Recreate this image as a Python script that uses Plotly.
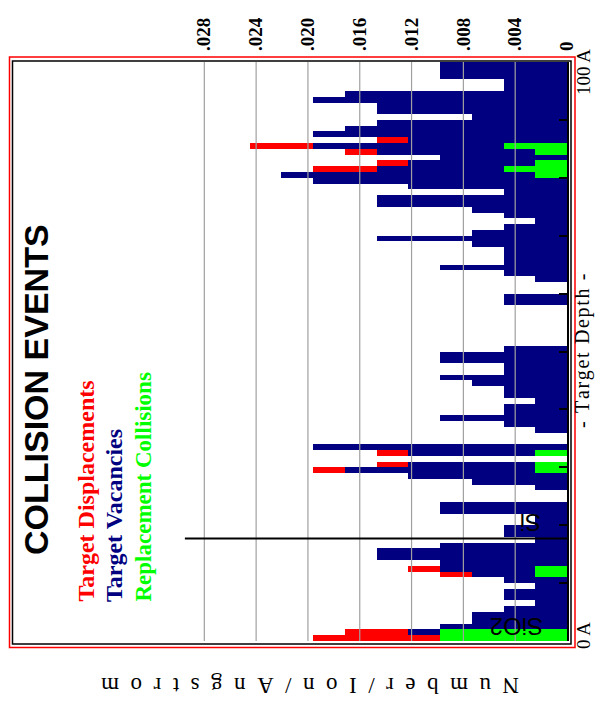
import plotly.graph_objects as go

# ---- data -------------------------------------------------------------
# depth bins (Angstrom), 1 A wide, 0..100 A
DEPTH_BINS = [i + 0.5 for i in range(100)]

# Target vacancies per ion per Angstrom
VACANCIES = [
    .0098, .01225, .0098, .00735, .00735, .0049, .00245, .0049, .0049, .00245,
    .0049, .00735, .0098, .0098, .0147, .0147, .0098, .00245, .0049, .0049,
    .00245, .00245, .0098, .0098, 0, 0, .00245, .00735, .01225, .01715,
    .01225, 0, .01225, .0196, 0, 0, .00245, .0049, .0098, .0049,
    .0049, .00245, .0049, .0049, .00735, .0098, .0049, .0049, .0098, .0098,
    .0049, 0, 0, 0, 0, 0, 0, 0, .0049, .0049,
    0, 0, .00245, .0049, .0098, .0049, .0049, .0049, .00735, .0147,
    .00735, .0049, .00245, .0049, .00735, .0147, .0147, .0049, .01225, .0196,
    .02205, .0147, .01225, .0098, .0147, .0196, .01225, .0196, .01715, .0147,
    .00735, .0147, .0147, .0196, .01715, .0049, .0049, .0098, .0098, .0098,
]

# Target displacements per ion per Angstrom
DISPLACEMENTS = [
    .0196, .01715, .0098, .00735, .00735, .0049, .00245, .0049, .0049, .00245,
    .0049, .0098, .01225, .0098, .0147, .0147, .0098, .00245, .0049, .0049,
    .00245, .00245, .0098, .0098, 0, 0, .00245, .00735, .01225, .0196,
    .0147, 0, .0147, .0196, 0, 0, .00245, .0049, .0098, .0049,
    .0049, .00245, .0049, .0049, .00735, .0098, .0049, .0049, .0098, .0098,
    .0049, 0, 0, 0, 0, 0, 0, 0, .0049, .0049,
    0, 0, .00245, .0049, .0098, .0049, .0049, .0049, .00735, .0147,
    .00735, .0049, .00245, .0049, .00735, .0147, .0147, .0049, .01225, .0196,
    .02205, .0196, .0147, .0098, .01715, .0245, .0147, .0196, .01715, .0147,
    .00735, .0147, .0147, .0196, .01715, .0049, .0049, .0098, .0098, .0098,
]

# Replacement collisions per ion per Angstrom
REPLACEMENTS = [
    .0098, .0098, 0, 0, 0, 0, 0, 0, 0, 0,
    0, .00245, .00245, 0, 0, 0, 0, 0, 0, 0,
    0, 0, 0, 0, 0, 0, 0, 0, 0, .00245,
    .00245, 0, .00245, 0, 0, 0, 0, 0, 0, 0,
    0, 0, 0, 0, 0, 0, 0, 0, 0, 0,
    0, 0, 0, 0, 0, 0, 0, 0, 0, 0,
    0, 0, 0, 0, 0, 0, 0, 0, 0, 0,
    0, 0, 0, 0, 0, 0, 0, 0, 0, 0,
    .00245, .0049, .00245, 0, .00245, .0049, 0, 0, 0, 0,
    0, 0, 0, 0, 0, 0, 0, 0, 0, 0,
]

VALUE_TICKS = [0, .004, .008, .012, .016, .020, .024, .028]
VALUE_TICK_TEXT = ["0", ".004", ".008", ".012", ".016", ".020", ".024", ".028"]
DEPTH_TICKS = [0, 10, 20, 30, 40, 50, 60, 70, 80, 90, 100]
LAYER_BOUNDARY = 17.7          # SiO2 / Si interface depth (A)
VALUE_MAX = 0.04277            # left edge of the plotting box

NAVY, RED, GREEN = "#000080", "#ff0000", "#00ff00"
SERIF = "Liberation Serif, Times New Roman, serif"
SANS = "Liberation Sans, Arial, sans-serif"

# ---- page geometry (pixels) -------------------------------------------
W, H = 595, 710
PL, PR, PT, PB = 13, 567, 62, 641      # plotting box


def px(x):
    return (x - PL) / (PR - PL)


def py(y):
    return (PB - y) / (PB - PT)


fig = go.Figure()
for vals, col in ((DISPLACEMENTS, RED), (VACANCIES, NAVY), (REPLACEMENTS, GREEN)):
    fig.add_trace(go.Bar(
        x=vals, y=DEPTH_BINS, orientation="h", width=1,
        marker=dict(color=col, line=dict(width=0)),
        hoverinfo="skip",
    ))

shapes = []
# grid lines, drawn over the bars
for v in VALUE_TICKS[1:]:
    shapes.append(dict(type="line", xref="x", yref="paper", x0=v, x1=v, y0=0, y1=1,
                       line=dict(color="#a0a0a0", width=1.2), layer="above"))
# layer interface
shapes.append(dict(type="line", xref="x", yref="y", x0=0.0295, x1=0,
                   y0=LAYER_BOUNDARY, y1=LAYER_BOUNDARY,
                   line=dict(color="black", width=2), layer="above"))
# frames
shapes.append(dict(type="rect", xref="paper", yref="paper",
                   x0=px(12.5), x1=px(571), y0=py(644), y1=py(61),
                   line=dict(color="black", width=1.5), layer="above"))
shapes.append(dict(type="rect", xref="paper", yref="paper",
                   x0=px(9.5), x1=px(575), y0=py(647.5), y1=py(57),
                   line=dict(color=RED, width=1.5), layer="above"))

ann = []


def label(text, x, y, angle, font, xanchor="center", yanchor="middle"):
    ann.append(dict(text=text, xref="paper", yref="paper", x=px(x), y=py(y),
                    textangle=angle, showarrow=False, font=font,
                    xanchor=xanchor, yanchor=yanchor))


label("<b>COLLISION EVENTS</b>", 36, 390, -90, dict(family=SANS, size=34, color="black"))
label("<b>Target Displacements</b>", 85, 604, -90, dict(family=SERIF, size=24, color=RED),
      yanchor="bottom")
label("<b>Target Vacancies</b>", 113.5, 604, -90, dict(family=SERIF, size=24, color=NAVY),
      yanchor="bottom")
label("<b>Replacement Collisions</b>", 143, 604, -90, dict(family=SERIF, size=23, color=GREEN),
      yanchor="bottom")
label("\u2002".join("Number/Ion/Angstrom"), 310, 686, 180,
      dict(family=SERIF, size=23, color="black"))
label("\u200a".join("- Target Depth -"), 582, 351, -90,
      dict(family=SERIF, size=20, color="black"))
label("0 A", 583, 636, -90, dict(family=SERIF, size=19, color="black"))
label("100 A", 583, 72, -90, dict(family=SERIF, size=19, color="black"))
label("Si", 531, 523, 180, dict(family=SANS, size=24, color="black"))
label("SiO2", 517, 627, 180, dict(family=SANS, size=24, color="black"))

fig.update_layout(
    width=W, height=H,
    margin=dict(l=PL, r=W - PR, t=PT, b=H - PB, pad=0),
    paper_bgcolor="white", plot_bgcolor="white",
    showlegend=False, barmode="overlay", bargap=0,
    shapes=shapes, annotations=ann,
    xaxis=dict(range=[VALUE_MAX, 0], side="top", tickvals=VALUE_TICKS,
               ticktext=["<b>%s</b>" % t for t in VALUE_TICK_TEXT],
               tickangle=-90, ticks="", ticklabelstandoff=10,
               tickfont=dict(family=SERIF, size=19, color="black"),
               showgrid=False, zeroline=False, showline=False, fixedrange=True),
    yaxis=dict(range=[0, 100], side="right", tickvals=DEPTH_TICKS, ticks="inside",
               ticklen=8, tickwidth=1.5, tickcolor="black", showticklabels=False,
               showgrid=False, zeroline=False, showline=True, linecolor="black",
               linewidth=1.5, fixedrange=True),
)

fig.write_html("out.html")
